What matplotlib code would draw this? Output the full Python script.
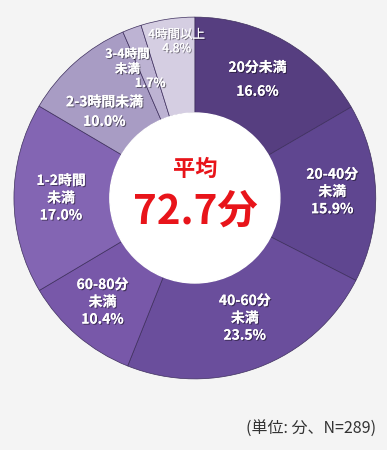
import numpy as np
import matplotlib
matplotlib.use("Agg")
import matplotlib.pyplot as plt
import matplotlib.patheffects as pe

plt.rcParams['font.family'] = ['Noto Sans CJK JP', 'DejaVu Sans']

categories = ['20分未満', '20-40分\n未満', '40-60分\n未満', '60-80分\n未満',
              '1-2時間\n未満', '2-3時間未満', '3-4時間\n未満', '4時間以上']
shares = [16.6, 15.9, 23.5, 10.4, 17.0, 10.0, 1.7, 4.8]
colors = ['#563e80', '#5f4690', '#6a4e9c', '#7858a9',
          '#8365b3', '#a89cc4', '#bdb3d3', '#d5cee2']
average = 72.7
note = '(単位: 分、N=289)'

fig = plt.figure(figsize=(3.87, 4.5), dpi=100)
fig.patch.set_facecolor('#f4f4f4')
ax = fig.add_axes([0.036, 0.158, 0.935, 0.804])
ax.set_aspect('equal')
ax.axis('off')

hole = 0.47
wedges, _ = ax.pie(shares, colors=colors, startangle=90, counterclock=False,
                   radius=1.0, wedgeprops=dict(width=1 - hole, edgecolor='#3e2f5e',
                                               linewidth=0.5))
ax.add_patch(plt.Circle((0, 0), hole, color='white', zorder=3))
ax.set_xlim(-1, 1)
ax.set_ylim(-1, 1)

shadow = [pe.withSimplePatchShadow(offset=(0.8, -0.8), shadow_rgbFace='black', alpha=0.45),
          pe.Normal()]

# label placement per slice: radius fraction and angle tweak (deg)
label_r = [0.74, 0.76, 0.72, 0.77, 0.74, 0.69, 0.84, 0.87]
label_da = [2, 1, 2, -1, 0, 5, 6, -2]
spacing = [1.9, 1.3, 1.3, 1.3, 1.3, 1.5, 1.2, 1.1]
for i, w in enumerate(wedges):
    mid = np.deg2rad((w.theta1 + w.theta2) / 2 + label_da[i])
    x, y = label_r[i] * np.cos(mid), label_r[i] * np.sin(mid)
    if i == 6:
        # thin slice: name above, value nearer the hole
        ax.text(x, y, categories[i], ha='center', va='center',
                color='white', fontsize=9, fontweight='bold',
                linespacing=spacing[i], path_effects=shadow, zorder=5)
        pm = np.deg2rad((w.theta1 + w.theta2) / 2 + 1)
        ax.text(0.68 * np.cos(pm), 0.68 * np.sin(pm), f'{shares[i]:.1f}%',
                ha='center', va='center', color='white', fontsize=9,
                fontweight='bold', path_effects=shadow, zorder=5)
        continue
    weight = 'normal' if i == 7 else 'bold'
    size = 9 if i == 7 else 10
    ax.text(x, y, f'{categories[i]}\n{shares[i]:.1f}%', ha='center', va='center',
            color='white', fontsize=size, fontweight=weight, linespacing=spacing[i],
            path_effects=shadow, zorder=5)

ax.text(0, 0.16, '平均', ha='center', va='center', color='#e8141a',
        fontsize=16, fontweight='bold', zorder=6)
ax.text(0, -0.08, f'{average}分', ha='center', va='center', color='#e8141a',
        fontsize=29, fontweight='bold', zorder=6)

fig.text(0.972, 0.045, note, ha='right', va='center', color='#333333', fontsize=11.5)

fig.savefig('out.png', dpi=100, facecolor=fig.get_facecolor())
